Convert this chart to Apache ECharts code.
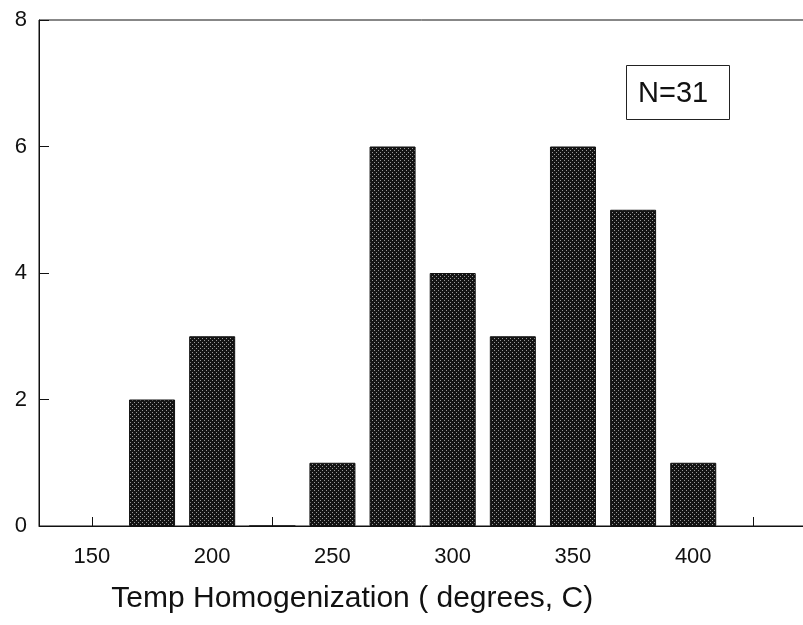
<!DOCTYPE html>
<html>
<head>
<meta charset="utf-8">
<script src="https://cdn.jsdelivr.net/npm/echarts@6/dist/echarts.min.js"></script>
<style>
  html, body { margin: 0; padding: 0; background: #fff; }
  #main { width: 803px; height: 625px; }
</style>
</head>
<body>
<div id="main"></div>
<script>
// bin centres (degrees C) and counts
var binCenters = [175, 200, 225, 250, 275, 300, 325, 350, 375, 400];
var counts = [2, 3, 0, 1, 6, 4, 3, 6, 5, 1];
var xTicks = [150, 175, 200, 225, 250, 275, 300, 325, 350, 375, 400, 425, 450];
var xLabels = [150, 200, 250, 300, 350, 400];
var sampleNote = 'N=31';

// stippled dark fill like the scanned plot
function makeDots() {
  var c = document.createElement('canvas');
  c.width = 4; c.height = 4;
  var g = c.getContext('2d');
  g.fillStyle = '#141414';
  g.fillRect(0, 0, 4, 4);
  g.fillStyle = '#9a9a9a';
  g.fillRect(0, 0, 1, 1);
  g.fillRect(2, 2, 1, 1);
  return c;
}

var data = binCenters.map(function (x, i) { return [x, counts[i]]; });
var font = '"Liberation Sans", Arial, sans-serif';

var chart = echarts.init(document.getElementById('main'), null, { renderer: 'canvas' });
chart.setOption({
  animation: false,
  backgroundColor: '#fff',
  title: {
    text: sampleNote,
    left: 626,
    top: 65,
    padding: [14, 22, 11, 12],
    borderColor: '#222',
    borderWidth: 1,
    textStyle: { fontFamily: font, fontSize: 29, fontWeight: 'normal', color: '#111', lineHeight: 30 }
  },
  grid: {
    show: true,
    left: 39,
    top: 20,
    right: -10.5,
    bottom: 99,
    outerBoundsMode: 'none',
    borderColor: '#111',
    borderWidth: 1,
    containLabel: false
  },
  xAxis: {
    type: 'value',
    min: 128,
    max: 450,
    name: 'Temp Homogenization ( degrees, C)',
    nameLocation: 'middle',
    nameGap: 58,
    nameTextStyle: { fontFamily: font, fontSize: 30, color: '#111', padding: [0, 148, 0, 0] },
    axisLine: { show: true, lineStyle: { color: '#111', width: 1 } },
    axisTick: { show: true, inside: true, length: 9, customValues: xTicks, lineStyle: { color: '#111' } },
    axisLabel: { customValues: xLabels, margin: 20, fontFamily: font, fontSize: 22, color: '#111' },
    splitLine: { show: false }
  },
  yAxis: {
    type: 'value',
    min: 0,
    max: 8,
    interval: 2,
    axisLine: { show: true, lineStyle: { color: '#111', width: 1 } },
    axisTick: { show: true, inside: true, length: 10, lineStyle: { color: '#111' } },
    axisLabel: { margin: 12, fontFamily: font, fontSize: 22, color: '#111' },
    splitLine: { show: false }
  },
  series: [{
    type: 'bar',
    data: data,
    barWidth: 46,
    itemStyle: {
      color: { image: makeDots(), repeat: 'repeat' },
      borderColor: '#111',
      borderWidth: 1
    },
    emphasis: { disabled: true }
  }]
});
</script>
</body>
</html>
